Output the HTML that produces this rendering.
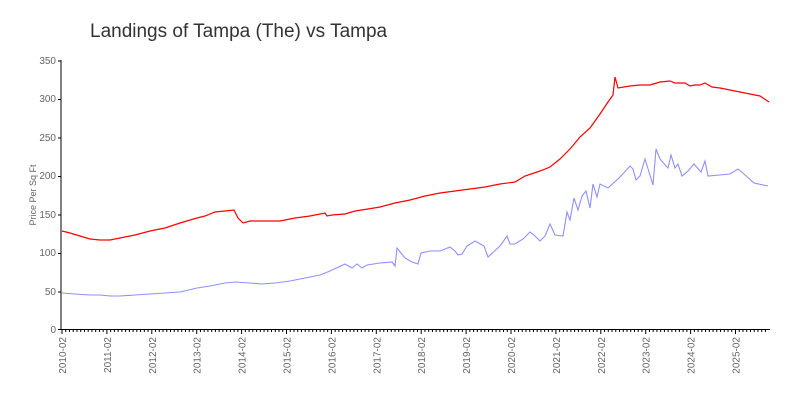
<!DOCTYPE html>
<html><head><meta charset="utf-8"><style>
body{margin:0;background:#fff;width:800px;height:400px;overflow:hidden}
text{font-family:"Liberation Sans",sans-serif;fill:#666}
</style></head><body>
<svg width="800" height="400" xmlns="http://www.w3.org/2000/svg">
<text x="90" y="37" font-size="19" style="fill:#333">Landings of Tampa (The) vs Tampa</text>
<g font-size="10" text-anchor="end">
<text x="56" y="333">0</text><text x="56" y="295">50</text><text x="56" y="256">100</text>
<text x="56" y="218">150</text><text x="56" y="179">200</text><text x="56" y="141">250</text>
<text x="56" y="102">300</text><text x="56" y="64">350</text>
</g>
<text transform="translate(36,195) rotate(-90)" font-size="9" text-anchor="middle">Price Per Sq Ft</text>
<g stroke="#000" stroke-width="1">
<line x1="61" y1="60" x2="61" y2="330"/><line x1="61" y1="329.5" x2="770" y2="329.5"/>
<line x1="58" y1="61" x2="61" y2="61"/><line x1="58" y1="99.5" x2="61" y2="99.5"/><line x1="58" y1="138" x2="61" y2="138"/><line x1="58" y1="176.5" x2="61" y2="176.5"/><line x1="58" y1="215" x2="61" y2="215"/><line x1="58" y1="253.5" x2="61" y2="253.5"/><line x1="58" y1="292" x2="61" y2="292"/><line x1="58" y1="329.5" x2="61" y2="329.5"/>
</g>
<g id="ticks" stroke="#000" stroke-width="1"></g>
<g font-size="10" text-anchor="end" id="xl"></g>
<polyline fill="none" stroke="#f00" stroke-width="1.2" points="62,231 70,233 80,236 90,239 100,240 110,240 120,238 135,235 150,231 165,228 180,223 197,218 205,216 215,212 225,211 234,210 238,218 243,223 250,221 265,221 280,221 295,218 310,216 325,213 327,216 332,215 345,214 355,211 368,209 380,207 395,203 410,200 425,196 440,193 455,191 470,189 485,187 500,184 515,182 525,176 540,171 550,167 560,159 570,149 580,137 590,128 600,114 608,102 613,95 615,77 618,88 630,86 640,85 650,85 660,82 670,81 675,83 685,83 690,86 695,85 700,85 705,83 712,87 720,88 735,91 750,94 760,96 769,102"/>
<polyline fill="none" stroke="#8f8fff" stroke-width="1.1" points="62,293 75,294 90,295 100,295 110,296 120,296 135,295 150,294 165,293 180,292 197,288 210,286 225,283 235,282 250,283 262,284 275,283 290,281 305,278 320,275 330,271 345,264 352,268 357,264 362,268 367,265 380,263 392,262 395,266 397,248 405,258 412,262 418,264 421,253 430,251 440,251 450,247 455,251 458,255 462,254 467,246 475,241 484,246 488,257 500,246 507,236 510,244 515,244 523,239 530,232 535,236 540,241 545,236 550,224 555,235 563,236 567,212 570,220 574,198 578,210 582,196 586,191 590,208 593,184 597,197 600,184 608,188 620,177 630,166 633,169 636,180 640,176 645,159 653,185 656,149 660,159 668,168 671,155 675,168 678,164 682,176 688,171 694,164 701,172 705,161 708,176 720,175 730,174 738,169 744,174 754,183 768,186"/>
</svg>
<script>
var t=document.getElementById('ticks'),xl=document.getElementById('xl'),ns='http://www.w3.org/2000/svg';
for(var m=0;m<=188;m++){var x=62+m*44.9/12;var l=document.createElementNS(ns,'line');l.setAttribute('x1',x);l.setAttribute('x2',x);l.setAttribute('y1',329);l.setAttribute('y2',m%12==0?334:332);t.appendChild(l);
if(m%12==0){var tx=document.createElementNS(ns,'text');tx.setAttribute('transform','translate('+(x+4)+',337) rotate(-90)');tx.textContent=(2010+m/12)+'-02';xl.appendChild(tx);}}
</script>
</body></html>
